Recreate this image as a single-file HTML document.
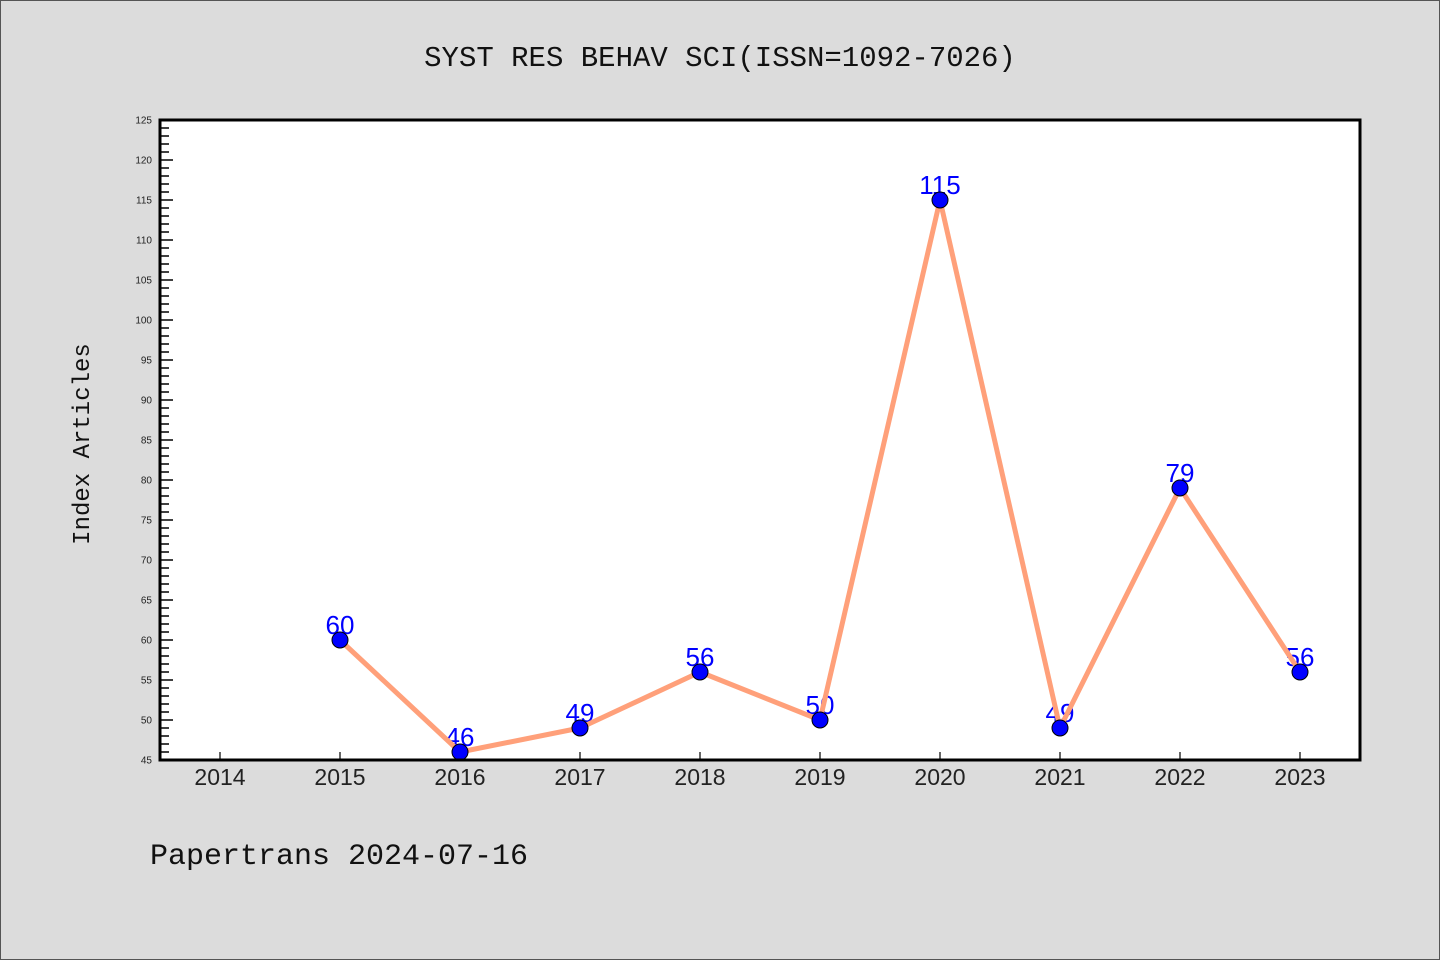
<!DOCTYPE html>
<html><head><meta charset="utf-8"><style>
html,body{margin:0;padding:0;background:#dcdcdc;}
svg{display:block;}
</style></head><body>
<svg id="chart" width="1440" height="960" xmlns="http://www.w3.org/2000/svg">
<rect x="0.5" y="0.5" width="1439" height="959" fill="#dcdcdc" stroke="#555"/>
<text x="720" y="66" text-anchor="middle" font-family="Liberation Mono, monospace" font-size="29" fill="#111">SYST RES BEHAV SCI(ISSN=1092-7026)</text>
<text transform="translate(89,444) rotate(-90)" text-anchor="middle" font-family="Liberation Mono, monospace" font-size="24" fill="#111">Index Articles</text>
<text x="150" y="864" font-family="Liberation Mono, monospace" font-size="30" fill="#111">Papertrans 2024-07-16</text>
<rect x="160" y="120" width="1200" height="640" fill="#fff"/>
<g id="axes"></g>
<g id="labels"></g>
<g id="line"></g>
<g id="marks"></g>
<rect x="160" y="120" width="1200" height="640" fill="none" stroke="#000" stroke-width="3"/>
</svg>
<script>
const years = [2014,2015,2016,2017,2018,2019,2020,2021,2022,2023];
const dataYears = [2015,2016,2017,2018,2019,2020,2021,2022,2023];
const counts = [60,46,49,56,50,115,49,79,56];
const yMin = 45, yMax = 125;
const NS = 'http://www.w3.org/2000/svg';
function xS(yr){ return 220 + (yr - 2014) * 120; }
function yS(v){ return 760 - (v - yMin) * (640 / (yMax - yMin)); }
function mk(tag, attrs, parent){ const e=document.createElementNS(NS,tag); for(const k in attrs) e.setAttribute(k,attrs[k]); parent.appendChild(e); return e; }
const axes=document.getElementById('axes');
for(let v=yMin; v<=yMax; v++){
  const major = v%5===0;
  const t=mk('line',{x1:160,x2:major?173:169,y1:yS(v),y2:yS(v),stroke:'#000','stroke-width':1.5},axes);
  
  
  if(major){
    const l=mk('text',{x:152,y:yS(v)+3.5,'text-anchor':'end','font-family':'Liberation Sans, sans-serif','font-size':10,fill:'#222'},axes);
    l.textContent=v;
    
    
  }
}
years.forEach(yr=>{
  const t=mk('line',{x1:xS(yr),x2:xS(yr),y1:760,y2:752,stroke:'#000','stroke-width':1.2},axes);
  
  
  const l=mk('text',{x:xS(yr),y:785,'text-anchor':'middle','font-family':'Liberation Sans, sans-serif','font-size':23,fill:'#222'},axes);
  l.textContent=yr;
  
  
});
const labels=document.getElementById('labels');
dataYears.forEach((yr,i)=>{
  const l=mk('text',{x:xS(yr),y:yS(counts[i])-6,'text-anchor':'middle','font-family':'Liberation Sans, sans-serif','font-size':26,fill:'#0000ff'},labels);
  l.textContent=counts[i];
  
  
});
const pts=dataYears.map((yr,i)=>xS(yr)+','+yS(counts[i])).join(' ');
const pl=mk('polyline',{points:pts,fill:'none',stroke:'#ffa07a','stroke-width':5,'stroke-linejoin':'round'},document.getElementById('line'));


const marks=document.getElementById('marks');
dataYears.forEach((yr,i)=>{
  const c=mk('circle',{cx:xS(yr),cy:yS(counts[i]),r:8,fill:'#0000ff',stroke:'#000','stroke-width':1},marks);
  
  
});
</script>
</body></html>
